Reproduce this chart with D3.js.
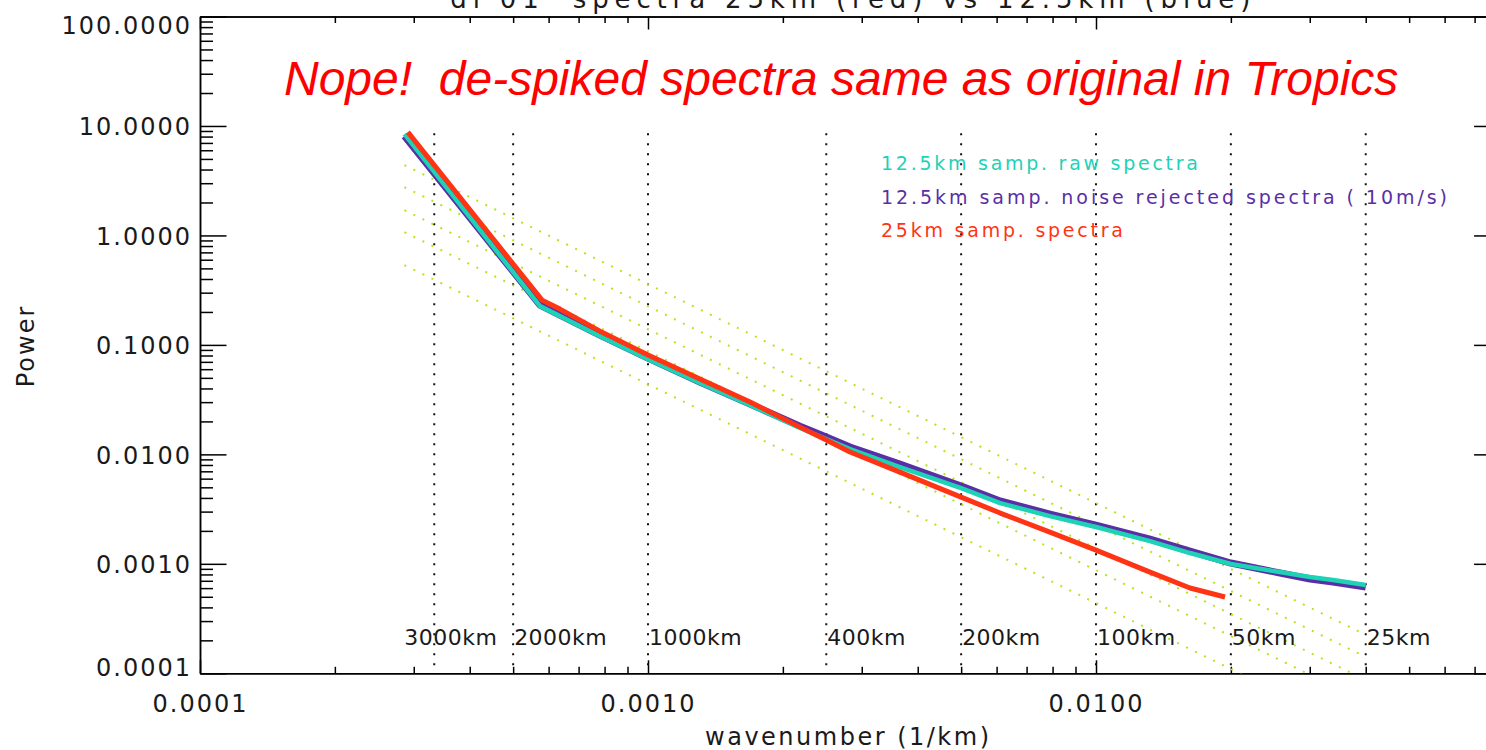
<!DOCTYPE html>
<html>
<head>
<meta charset="utf-8">
<script src="https://cdn.jsdelivr.net/npm/d3@7"></script>
<style>
  body { margin: 0; background: #fff; }
  svg { display: block; background: #fff; }
  text { font-family: "DejaVu Sans", sans-serif; fill: #1a1a1a; }
  .tick text { font-size: 24px; letter-spacing: 2px; }
  .tick line { stroke-width: 1.5; }
  .domain { stroke-width: 1.5; }
</style>
</head>
<body>
<svg id="chart" width="1486" height="750"></svg>
<script>
// 12.5km sampling: wavenumber (1/km) and power
var wavenumber = [0.000286, 0.000574, 0.000636, 0.000781, 0.001, 0.001306, 0.00169, 0.002184, 0.0025, 0.002825,
  0.00365, 0.005, 0.00611, 0.00789, 0.01, 0.0132, 0.01621, 0.02, 0.02574, 0.03004, 0.03381, 0.04];
var rawPower = [8.41, 0.226, 0.1832, 0.1202, 0.0741, 0.0448, 0.0282, 0.0174, 0.01379, 0.01118,
  0.00766, 0.00492, 0.00359, 0.00273, 0.00217, 0.001614, 0.001255, 0.000996, 0.000841, 0.000758, 0.000711, 0.000640];
var rejectedPower = [8.07, 0.2310, 0.1871, 0.1229, 0.0758, 0.0457, 0.0288, 0.01811, 0.01439, 0.01166,
  0.00815, 0.00514, 0.00375, 0.00285, 0.00226, 0.001684, 0.001309, 0.001017, 0.000824, 0.000726, 0.000682, 0.000614];

// 25km sampling
var wavenumber25 = [0.000291, 0.000580, 0.000636, 0.000781, 0.001, 0.001306, 0.00169, 0.002184, 0.0025, 0.002825,
  0.00365, 0.005, 0.00611, 0.00789, 0.01, 0.0132, 0.01621, 0.01941];
var power25 = [8.78, 0.2564, 0.2123, 0.1336, 0.0807, 0.0488, 0.0301, 0.01774, 0.01351, 0.01050,
  0.00689, 0.00407, 0.00291, 0.00195, 0.001336, 0.000841, 0.000601, 0.000498];

// k^-2 guide lines, power at the first and last wavenumber
var guideK = [0.000286, 0.04];
var guideStart = [4.39, 2.76, 1.70, 1.07, 0.535];
var guideEnd = [0.0002244, 0.0001411, 0.0000869, 0.0000547, 0.00002735];

// wavelength markers (km)
var wavelengths = [3000, 2000, 1000, 400, 200, 100, 50, 25];

var legendText = ["12.5km samp. raw spectra",
  "12.5km samp. noise rejected spectra ( 10m/s)",
  "25km samp. spectra"];
var legendColors = ["#1ed2b6", "#5a2fa6", "#ff3414"];
var legendWidths = [317, 566, 242];

var titleText = "di 01  spectra 25km (red) vs 12.5km (blue)";
var noteText = "Nope!  de-spiked spectra same as original in Tropics";

var svg = d3.select("#chart");

var plotLeft = 200, plotTop = 16.5, plotBottom = 673.3;
var decade = 448;
var x = d3.scaleLog().domain([1e-4, 0.08]).range([plotLeft, plotLeft + decade * Math.log10(0.08 / 1e-4)]);
var y = d3.scaleLog().domain([1e-4, 100]).range([plotBottom, plotTop]);
var plotRight = x.range()[1];

function isMajor(d) {
  var l = Math.log10(d);
  return Math.abs(l - Math.round(l)) < 1e-6;
}
var xMinor = x.ticks().filter(function(d) { return !isMajor(d); });
var xMajor = x.ticks().filter(isMajor);
var yMinor = y.ticks().filter(function(d) { return !isMajor(d); });
var yMajor = y.ticks().filter(isMajor);

svg.append("clipPath").attr("id", "plotclip")
  .append("rect")
  .attr("x", plotLeft).attr("y", plotTop)
  .attr("width", plotRight - plotLeft).attr("height", plotBottom - plotTop);

// title (sits mostly above the page)
svg.append("text")
  .attr("x", (plotLeft + plotRight) / 2)
  .attr("y", 8)
  .attr("text-anchor", "middle")
  .attr("textLength", 800)
  .style("font-size", "26px")
  .style("white-space", "pre")
  .text(titleText);

// bottom axis
svg.append("g").attr("transform", "translate(0," + plotBottom + ")")
  .call(d3.axisBottom(x).tickValues(xMinor).tickSize(-6.5).tickSizeOuter(0).tickFormat(""));
svg.append("g").attr("transform", "translate(0," + plotBottom + ")")
  .call(d3.axisBottom(x).tickValues(xMajor).tickSize(-13).tickSizeOuter(0).tickPadding(22)
    .tickFormat(d3.format(".4f")));

// top axis
svg.append("g").attr("transform", "translate(0," + plotTop + ")")
  .call(d3.axisTop(x).tickValues(xMinor).tickSize(-6.5).tickSizeOuter(0).tickFormat(""));
svg.append("g").attr("transform", "translate(0," + plotTop + ")")
  .call(d3.axisTop(x).tickValues(xMajor).tickSize(-13).tickSizeOuter(0).tickFormat(""));

// left axis
svg.append("g").attr("transform", "translate(" + plotLeft + ",0)")
  .call(d3.axisLeft(y).tickValues(yMinor).tickSize(-13).tickSizeOuter(0).tickFormat(""));
var yAxis = svg.append("g").attr("transform", "translate(" + plotLeft + ",0)")
  .call(d3.axisLeft(y).tickValues(yMajor).tickSize(-26.5).tickSizeOuter(0).tickPadding(8)
    .tickFormat(d3.format(".4f")));
// keep the end labels inside the axis range
yAxis.selectAll(".tick text")
  .attr("dy", null)
  .attr("y", function(d) {
    var base = Math.min(Math.max(y(d) + 9, 33), 675);
    return base - y(d);
  });

// right axis
svg.append("g").attr("transform", "translate(" + plotRight + ",0)")
  .call(d3.axisRight(y).tickValues(yMinor).tickSize(-13).tickSizeOuter(0).tickFormat(""));
svg.append("g").attr("transform", "translate(" + plotRight + ",0)")
  .call(d3.axisRight(y).tickValues(yMajor).tickSize(-26.5).tickSizeOuter(0).tickFormat(""));

// axis titles
svg.append("text")
  .attr("x", (plotLeft + plotRight) / 2 - 2)
  .attr("y", 745)
  .attr("text-anchor", "middle")
  .style("font-size", "24px")
  .style("letter-spacing", "2.5px")
  .text("wavenumber (1/km)");

svg.append("text")
  .attr("transform", "translate(34,346) rotate(-90)")
  .attr("text-anchor", "middle")
  .style("font-size", "24px")
  .style("letter-spacing", "2px")
  .text("Power");

var plot = svg.append("g").attr("clip-path", "url(#plotclip)");

// wavelength markers
plot.selectAll(".wl").data(wavelengths)
  .enter().append("line")
  .attr("class", "wl")
  .attr("x1", function(d) { return x(1 / d); })
  .attr("x2", function(d) { return x(1 / d); })
  .attr("y1", y(8.6))
  .attr("y2", y(1e-4))
  .attr("stroke", "#111")
  .attr("stroke-width", 2)
  .attr("stroke-dasharray", "2 8");

svg.selectAll(".wllabel").data(wavelengths)
  .enter().append("text")
  .attr("class", "wllabel")
  .attr("x", function(d) { return d == 3000 ? x(1 / 3500) : x(1 / d) + 1; })
  .attr("y", 645)
  .style("font-size", "22px")
  .style("letter-spacing", "0.5px")
  .text(function(d) { return d + "km"; });

// k^-2 guides
plot.selectAll(".guide").data(guideStart)
  .enter().append("line")
  .attr("class", "guide")
  .attr("x1", x(guideK[0]))
  .attr("x2", x(guideK[1]))
  .attr("y1", function(d) { return y(d); })
  .attr("y2", function(d, i) { return y(guideEnd[i]); })
  .attr("stroke", "#b4e61e")
  .attr("stroke-width", 2)
  .attr("stroke-dasharray", "2 8");

var line = d3.line()
  .x(function(d) { return x(d[0]); })
  .y(function(d) { return y(d[1]); });

plot.append("path")
  .datum(d3.zip(wavenumber, rejectedPower))
  .attr("d", line)
  .attr("fill", "none")
  .attr("stroke", legendColors[1])
  .attr("stroke-width", 7)
  .attr("stroke-linejoin", "round");

plot.append("path")
  .datum(d3.zip(wavenumber, rawPower))
  .attr("d", line)
  .attr("fill", "none")
  .attr("stroke", legendColors[0])
  .attr("stroke-width", 4.5)
  .attr("stroke-linejoin", "round");

plot.append("path")
  .datum(d3.zip(wavenumber25, power25))
  .attr("d", line)
  .attr("fill", "none")
  .attr("stroke", legendColors[2])
  .attr("stroke-width", 5)
  .attr("stroke-linejoin", "round");

// legend
svg.selectAll(".legend").data(legendText)
  .enter().append("text")
  .attr("class", "legend")
  .attr("x", 881)
  .attr("y", function(d, i) { return 170 + i * 33.5; })
  .attr("textLength", function(d, i) { return legendWidths[i]; })
  .attr("lengthAdjust", "spacing")
  .style("font-size", "19px")
  .style("white-space", "pre")
  .style("fill", function(d, i) { return legendColors[i]; })
  .text(function(d) { return d; });

// annotation
svg.append("text")
  .attr("x", 284)
  .attr("y", 95)
  .style("font-family", "'Liberation Sans', Arial, sans-serif")
  .style("font-style", "italic")
  .style("font-size", "48px")
  .style("fill", "#ff0000")
  .style("white-space", "pre")
  .text(noteText);
</script>
</body>
</html>
